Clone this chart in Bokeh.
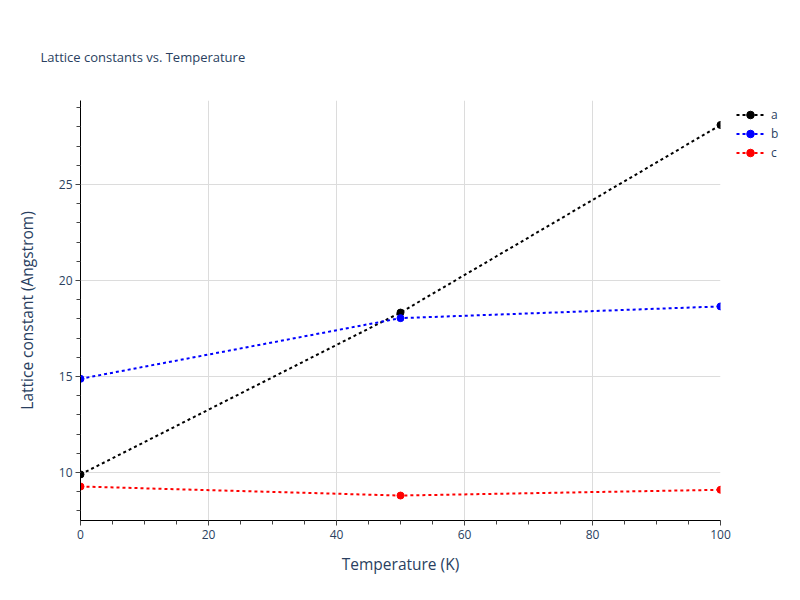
from bokeh.plotting import figure
from bokeh.models import Range1d, Legend, LegendItem, SingleIntervalTicker
from bokeh.embed import file_html
from bokeh.resources import INLINE

temperature = [0, 50, 100]
a_vals = [9.9, 18.33, 28.1]
b_vals = [14.88, 18.04, 18.65]
c_vals = [9.27, 8.8, 9.1]
series_names = ["a", "b", "c"]
series_colors = ["black", "blue", "red"]

FONT = "Open Sans"
TXT = "#2a3f5f"

p = figure(width=800, height=600, frame_width=640, frame_height=420,
           output_backend="svg", toolbar_location=None,
           x_range=Range1d(0, 100), y_range=Range1d(7.5, 29.375),
           min_border_left=80, min_border_right=80, min_border_top=100, min_border_bottom=80,
           title="Lattice constants vs. Temperature")
p.outline_line_color = None
p.background_fill_color = "white"
p.border_fill_color = "white"

p.title.text_font = FONT
p.title.text_font_size = "13px"
p.title.text_font_style = "normal"
p.title.text_color = TXT
p.title.vertical_align = "top"
p.title.standoff = 66
p.title.offset = -40

p.xaxis.ticker = SingleIntervalTicker(interval=20, num_minor_ticks=4)
p.yaxis.ticker = SingleIntervalTicker(interval=5, num_minor_ticks=5)

for ax in (p.xaxis[0], p.yaxis[0]):
    ax.axis_line_color = "black"
    ax.axis_line_width = 1
    ax.major_tick_line_color = "#444444"
    ax.minor_tick_line_color = "#444444"
    ax.major_tick_out = 5
    ax.major_tick_in = 0
    ax.minor_tick_out = 4
    ax.minor_tick_in = 0
    ax.major_label_text_font = FONT
    ax.major_label_text_font_size = "12px"
    ax.major_label_text_color = TXT
    ax.axis_label_text_font = FONT
    ax.axis_label_text_font_size = "15.5px"
    ax.axis_label_text_font_style = "normal"
    ax.axis_label_text_color = TXT

p.xaxis.axis_label = "Temperature (K)"
p.yaxis.axis_label = "Lattice constant (Angstrom)"
p.xaxis.major_label_standoff = 4
p.xaxis.axis_label_standoff = 11
p.yaxis.major_label_standoff = 3
p.yaxis.axis_label_standoff = 18

p.xgrid.grid_line_color = "#dcdcdc"
p.ygrid.grid_line_color = "#dcdcdc"

items = []
for name, vals, col in zip(series_names, [a_vals, b_vals, c_vals], series_colors):
    ln = p.line(temperature, vals, line_color=col, line_width=2, line_dash="3 3")
    sc = p.scatter(temperature, vals, size=7, fill_color=col, line_color=col)
    items.append(LegendItem(label=name, renderers=[ln, sc]))

legend = Legend(items=items, location=(16, 358), orientation="vertical",
                border_line_color=None, background_fill_alpha=0,
                padding=5, margin=0, spacing=0, label_height=19, glyph_height=19,
                glyph_width=28, label_standoff=7,
                label_text_font=FONT, label_text_font_size="12px", label_text_color=TXT)
p.add_layout(legend, "right")

open("out.html", "w").write(file_html(p, INLINE))
